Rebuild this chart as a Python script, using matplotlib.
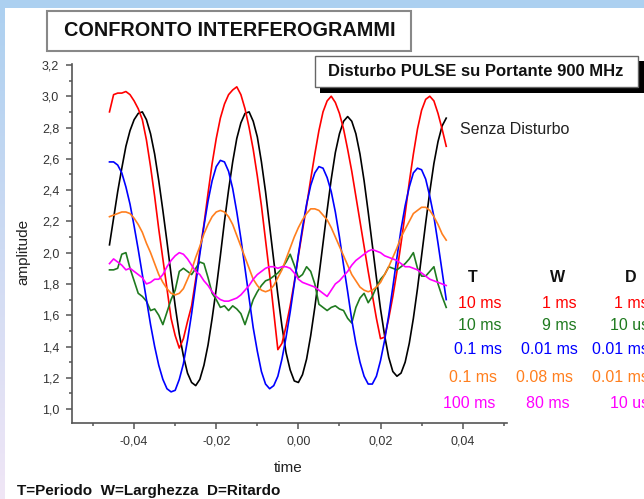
import numpy as np
import matplotlib
matplotlib.use("Agg")
import matplotlib.pyplot as plt
from matplotlib.patches import Rectangle
from matplotlib.ticker import MultipleLocator, FuncFormatter
from matplotlib.colors import LinearSegmentedColormap

plt.rcParams['font.family'] = ['Liberation Sans', 'DejaVu Sans']
plt.rcParams['axes.unicode_minus'] = False

# ---- data -------------------------------------------------------------
# sampling instants: -0.046 ... 0.036, step 0.001
time = np.round(np.linspace(-0.046, 0.036, 83), 4)

senza_disturbo = [
    2.05, 2.22, 2.39, 2.54, 2.68, 2.78, 2.85, 2.89,
    2.90, 2.85, 2.76, 2.63, 2.46, 2.27, 2.07, 1.86, 1.66, 1.48, 1.34, 1.23, 1.17,
    1.15, 1.19, 1.28, 1.41, 1.58, 1.77, 1.98, 2.20, 2.40, 2.58, 2.73, 2.83, 2.89,
    2.90, 2.84, 2.74, 2.58, 2.39, 2.17, 1.95, 1.73, 1.53, 1.36, 1.25, 1.18,
    1.17, 1.22, 1.32, 1.47, 1.65, 1.85, 2.06, 2.27, 2.47, 2.64, 2.76, 2.84, 2.87,
    2.84, 2.76, 2.63, 2.46, 2.26, 2.05, 1.84, 1.64, 1.47, 1.33, 1.24, 1.21,
    1.23, 1.30, 1.42, 1.58, 1.77, 1.98, 2.19, 2.39, 2.57, 2.71, 2.81, 2.86,
]

pulse_red = [
    2.90, 3.01, 3.02, 3.02, 3.03, 3.01, 2.97, 2.92,
    2.85, 2.72, 2.55, 2.36, 2.15, 1.96, 1.77, 1.58, 1.47, 1.39,
    1.45, 1.56, 1.66, 1.83, 2.01, 2.18, 2.38, 2.57, 2.73, 2.86, 2.95, 3.01, 3.04, 3.06,
    3.01, 2.92, 2.80, 2.66, 2.49, 2.30, 2.08, 1.86, 1.62, 1.38,
    1.42, 1.53, 1.66, 1.81, 1.98, 2.14, 2.30, 2.47, 2.63, 2.78, 2.90, 2.97, 3.00,
    2.96, 2.89, 2.79, 2.66, 2.52, 2.36, 2.20, 2.04, 1.88, 1.73, 1.58, 1.45, 1.46,
    1.58, 1.72, 1.88, 2.06, 2.25, 2.45, 2.63, 2.79, 2.91, 2.98, 3.00, 2.97, 2.89, 2.79, 2.68,
]

pulse_green = [
    1.89, 1.89, 1.90, 1.99, 2.00, 1.90, 1.82, 1.74, 1.72, 1.69,
    1.63, 1.64, 1.60, 1.54, 1.62, 1.70, 1.76, 1.88, 1.90, 1.88,
    1.86, 1.90, 1.94, 1.93, 1.84, 1.74, 1.70, 1.65, 1.66, 1.63,
    1.66, 1.64, 1.61, 1.54, 1.62, 1.70, 1.75, 1.79, 1.82, 1.83,
    1.85, 1.87, 1.90, 1.94, 1.99, 1.92, 1.84, 1.86, 1.91, 1.88,
    1.80, 1.67, 1.65, 1.63, 1.65, 1.66, 1.64, 1.63, 1.58, 1.55,
    1.65, 1.71, 1.74, 1.68, 1.72, 1.78, 1.83, 1.86, 1.91, 1.90,
    1.89, 1.91, 1.93, 1.96, 2.00, 1.90, 1.85, 1.85, 1.88, 1.91,
    1.80, 1.72, 1.65,
]

pulse_blue = [
    2.58, 2.58, 2.56, 2.51, 2.42, 2.31, 2.17, 2.02, 1.86, 1.70, 1.54, 1.40, 1.28, 1.19, 1.13, 1.11,
    1.12, 1.19, 1.29, 1.44, 1.61, 1.80, 1.99, 2.17, 2.33, 2.46, 2.55, 2.59,
    2.58, 2.52, 2.41, 2.26, 2.09, 1.90, 1.71, 1.52, 1.37, 1.24, 1.16, 1.13,
    1.15, 1.21, 1.32, 1.46, 1.62, 1.80, 1.99, 2.16, 2.31, 2.43, 2.51, 2.55,
    2.54, 2.48, 2.39, 2.26, 2.10, 1.92, 1.75, 1.57, 1.42, 1.30, 1.21, 1.16,
    1.16, 1.21, 1.31, 1.44, 1.60, 1.78, 1.97, 2.15, 2.30, 2.42, 2.51, 2.54,
    2.53, 2.47, 2.36, 2.23, 2.06, 1.88, 1.70,
]

pulse_orange = [
    2.23, 2.24, 2.25, 2.26, 2.26, 2.25, 2.22, 2.18, 2.13, 2.06, 2.00,
    1.93, 1.86, 1.81, 1.77, 1.74, 1.73,
    1.74, 1.77, 1.83, 1.89, 1.97, 2.04, 2.12, 2.18, 2.23, 2.26, 2.27,
    2.26, 2.23, 2.18, 2.11, 2.04, 1.97, 1.90, 1.83, 1.79, 1.76, 1.75,
    1.76, 1.79, 1.84, 1.89, 1.96, 2.03, 2.10, 2.16, 2.21, 2.25, 2.28, 2.28,
    2.27, 2.24, 2.21, 2.16, 2.10, 2.04, 1.98, 1.92, 1.86, 1.82, 1.78, 1.76, 1.75,
    1.76, 1.78, 1.81, 1.86, 1.91, 1.97, 2.03, 2.10, 2.15, 2.20, 2.25, 2.27, 2.29,
    2.29, 2.27, 2.23, 2.18, 2.12, 2.08,
]

pulse_magenta = [
    1.93, 1.96, 1.94, 1.92, 1.89, 1.90, 1.88, 1.86, 1.84, 1.80,
    1.81, 1.83, 1.83, 1.86, 1.91, 1.95, 1.98, 2.00, 1.99, 1.96,
    1.92, 1.88, 1.86, 1.82, 1.79, 1.75, 1.72, 1.70, 1.69, 1.69,
    1.70, 1.71, 1.73, 1.76, 1.79, 1.83, 1.86, 1.88, 1.90, 1.91,
    1.91, 1.90, 1.91, 1.91, 1.90, 1.87, 1.83, 1.81, 1.80, 1.79,
    1.78, 1.76, 1.74, 1.72, 1.76, 1.80, 1.82, 1.85, 1.88, 1.92,
    1.95, 1.97, 1.99, 2.01, 2.02, 2.01, 2.00, 1.98, 1.97, 1.96,
    1.95, 1.93, 1.91, 1.91, 1.90, 1.89, 1.87, 1.85, 1.83, 1.82,
    1.81, 1.80, 1.79,
]

# pulse parameters: period, width, delay
col_T = ["10 ms", "10 ms", "0.1 ms", "0.1 ms", "100 ms"]
col_W = ["1 ms", "9 ms", "0.01 ms", "0.08 ms", "80 ms"]
col_D = ["1 ms", "10 us", "0.01 ms", "0.01 ms", "10 us"]

series = [pulse_red, pulse_green, pulse_blue, pulse_orange, pulse_magenta]
colors = ["#ff0000", "#1f7a1f", "#0000ff", "#ff7f1e", "#ff00ff"]

# ---- figure -----------------------------------------------------------
W, H = 644, 499
fig = plt.figure(figsize=(W / 100, H / 100), dpi=100)
fig.patch.set_facecolor("white")


def fx(x):
    return x / W


def fy(y):
    return 1 - y / H


# blue frame strips
fig.add_artist(Rectangle((0, fy(8)), 1, 8 / H, transform=fig.transFigure,
                         facecolor="#acd0f0", edgecolor="none", zorder=0))
frame = fig.add_axes([0, 0, fx(5), 1])
frame.axis("off")
grad = LinearSegmentedColormap.from_list("frame", ["#acd0f0", "#f0e6f6"])
frame.imshow(np.linspace(0, 1, 256)[:, None], aspect="auto", cmap=grad)

# main axes
ax = fig.add_axes([fx(71.7), fy(423), fx(507 - 71.7), (423 - 64) / H])
ax.set_xlim(-0.0552, 0.0508)
ax.set_ylim(0.911, 3.206)

ax.plot(time, senza_disturbo, color="black", lw=1.2, zorder=3)
for vals, c in zip(series, colors):
    ax.plot(time, vals, color=c, lw=1.2, zorder=3)

for side in ("top", "right"):
    ax.spines[side].set_visible(False)
for side in ("left", "bottom"):
    ax.spines[side].set_color("#555555")
    ax.spines[side].set_linewidth(1.2)

ax.xaxis.set_major_locator(MultipleLocator(0.02))
ax.xaxis.set_minor_locator(MultipleLocator(0.01))
ax.yaxis.set_major_locator(MultipleLocator(0.2))
ax.yaxis.set_minor_locator(MultipleLocator(0.1))


def fmt_x(v, _):
    s = f"{v:.2f}".replace(".", ",")
    return "0,00" if s == "-0,00" else s


ax.xaxis.set_major_formatter(FuncFormatter(fmt_x))
ax.yaxis.set_major_formatter(FuncFormatter(lambda v, _: f"{v:.1f}".replace(".", ",")))
ax.tick_params(which="major", direction="out", length=4, width=1.1,
               color="#555555", labelsize=9, labelcolor="#333333", pad=5)
ax.tick_params(which="minor", direction="out", length=2.5, width=1.1, color="#555555")

fig.text(fx(23), fy(252), "amplitude", rotation=90, ha="center", va="center",
         fontsize=11, color="#222222")
fig.text(fx(288), fy(468), "time", ha="center", va="center",
         fontsize=11, color="#222222")

# title box
fig.add_artist(Rectangle((fx(47), fy(51)), fx(411 - 47), (51 - 11) / H,
                         transform=fig.transFigure, facecolor="white",
                         edgecolor="#888888", lw=1.5, zorder=2))
fig.text(fx(230), fy(31), "CONFRONTO INTERFEROGRAMMI", ha="center", va="center",
         fontsize=14.3, fontweight="bold", color="#111111", zorder=3)

# subtitle box with drop shadow
fig.add_artist(Rectangle((fx(320), fy(93)), fx(330), (93 - 61) / H,
                         transform=fig.transFigure, facecolor="black",
                         edgecolor="none", zorder=2))
fig.add_artist(Rectangle((fx(315), fy(87)), fx(638 - 315), (87 - 56) / H,
                         transform=fig.transFigure, facecolor="white",
                         edgecolor="#666666", lw=1.0, zorder=3))
fig.text(fx(476), fy(72), "Disturbo PULSE su Portante 900 MHz", ha="center",
         va="center", fontsize=12, fontweight="bold", color="#111111", zorder=4)

fig.text(fx(460), fy(130), "Senza Disturbo", ha="left", va="center",
         fontsize=11.5, color="#222222")

# parameter table (the D column runs past the right edge of the sheet)
fig.text(fx(473), fy(277), "T", ha="center", va="center", fontsize=11.5,
         fontweight="bold", color="#111111")
fig.text(fx(558), fy(277), "W", ha="center", va="center", fontsize=11.5,
         fontweight="bold", color="#111111")
fig.text(fx(631), fy(277), "D", ha="center", va="center", fontsize=11.5,
         fontweight="bold", color="#111111")
row_y = [303, 326, 350, 377, 403]
t_right = [502, 502, 502, 497, 495]
w_right = [577, 577, 578, 573, 570]
for i, c in enumerate(colors):
    fig.text(fx(t_right[i]), fy(row_y[i]), col_T[i], ha="right", va="center",
             fontsize=11.5, color=c)
    fig.text(fx(w_right[i]), fy(row_y[i]), col_W[i], ha="right", va="center",
             fontsize=11.5, color=c)
    fig.text(fx(649), fy(row_y[i]), col_D[i], ha="right", va="center",
             fontsize=11.5, color=c)

fig.text(fx(17), fy(491), "T=Periodo  W=Larghezza  D=Ritardo", ha="left",
         va="center", fontsize=11, fontweight="bold", color="#111111")

fig.savefig("out.png", dpi=100)
